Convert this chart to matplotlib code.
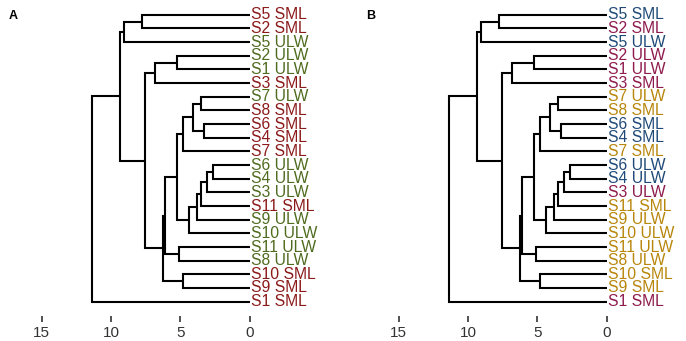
import matplotlib.pyplot as plt

# kolejnosc lisci od gory do dolu
leaves = ['S5 SML', 'S2 SML', 'S5 ULW', 'S2 ULW', 'S1 ULW', 'S3 SML', 'S7 ULW',
          'S8 SML', 'S6 SML', 'S4 SML', 'S7 SML', 'S6 ULW', 'S4 ULW', 'S3 ULW',
          'S11 SML', 'S9 ULW', 'S10 ULW', 'S11 ULW', 'S8 ULW', 'S10 SML',
          'S9 SML', 'S1 SML']

# polaczenia: (lewy, prawy, wysokosc); int = numer wczesniejszego polaczenia
merges = [
    ('S5 SML', 'S2 SML', 7.76),   # 0
    (0, 'S5 ULW', 9.08),          # 1
    ('S2 ULW', 'S1 ULW', 5.28),   # 2
    (2, 'S3 SML', 6.85),          # 3
    ('S7 ULW', 'S8 SML', 3.53),   # 4
    ('S6 SML', 'S4 SML', 3.27),   # 5
    (4, 5, 4.08),                 # 6
    (6, 'S7 SML', 4.80),          # 7
    ('S6 ULW', 'S4 ULW', 2.67),   # 8
    (8, 'S3 ULW', 3.12),          # 9
    (9, 'S11 SML', 3.50),         # 10
    (10, 'S9 ULW', 3.78),         # 11
    (11, 'S10 ULW', 4.38),        # 12
    (7, 12, 5.24),                # 13
    ('S11 ULW', 'S8 ULW', 5.09),  # 14
    (13, 14, 6.10),               # 15
    ('S10 SML', 'S9 SML', 4.80),  # 16
    (15, 16, 6.29),               # 17
    (3, 17, 7.59),                # 18
    (1, 18, 9.37),                # 19
    (19, 'S1 SML', 11.37),        # 20
]

ticks = [15, 10, 5, 0]

# kolory etykiet
colors_a = {'SML': '#8B1A1A', 'ULW': '#4F6B1E'}
group_b = {'S1': 'm', 'S2': 'm', 'S3': 'm', 'S4': 'b', 'S5': 'b', 'S6': 'b',
           'S7': 'g', 'S8': 'g', 'S9': 'g', 'S10': 'g', 'S11': 'g'}
colors_b = {'m': '#8E1B4D', 'b': '#1F4A78', 'g': '#B8860B'}

plt.rcParams['font.family'] = ['Liberation Sans', 'DejaVu Sans']

W, H = 686, 341
fig = plt.figure(figsize=(W / 100, H / 100), dpi=100)


def node_pos(n, pos):
    if isinstance(n, int):
        return pos[n]
    return (leaves.index(n), 0.0)


def draw_dendro(ax, color_fn):
    pos = {}
    for k, (a, b, h) in enumerate(merges):
        ya, xa = node_pos(a, pos)
        yb, xb = node_pos(b, pos)
        ax.plot([xa, h, h, xb], [ya, ya, yb, yb], color='black', lw=1.5,
                solid_joinstyle='miter', solid_capstyle='butt')
        pos[k] = ((ya + yb) / 2, h)
    for i, name in enumerate(leaves):
        ax.text(-0.05, i, name, ha='left', va='center', fontsize=11.3,
                color=color_fn(name))
    ax.set_xlim(15.85, -6.5)
    ax.set_ylim(22.05, -0.86)
    ax.set_xticks(ticks)
    ax.set_xticklabels([str(t) for t in ticks])
    ax.set_yticks([])
    for s in ax.spines.values():
        s.set_visible(False)
    ax.tick_params(axis='x', length=4, width=1.2, pad=3, labelsize=11,
                   color='#333333', labelcolor='#333333')


# panel A
ax1 = fig.add_axes([30 / W, (H - 316) / H, 310 / W, 313 / H])
draw_dendro(ax1, lambda n: colors_a[n.split()[1]])

# panel B
ax2 = fig.add_axes([387 / W, (H - 316) / H, 310 / W, 313 / H])
draw_dendro(ax2, lambda n: colors_b[group_b[n.split()[0]]])

fig.text(9 / W, 1 - 16 / H, 'A', va='center', ha='left', fontsize=9, fontweight='bold')
fig.text(366 / W, 1 - 16 / H, 'B', va='center', ha='left', fontsize=9, fontweight='bold')

fig.savefig('out.png', dpi=100)
